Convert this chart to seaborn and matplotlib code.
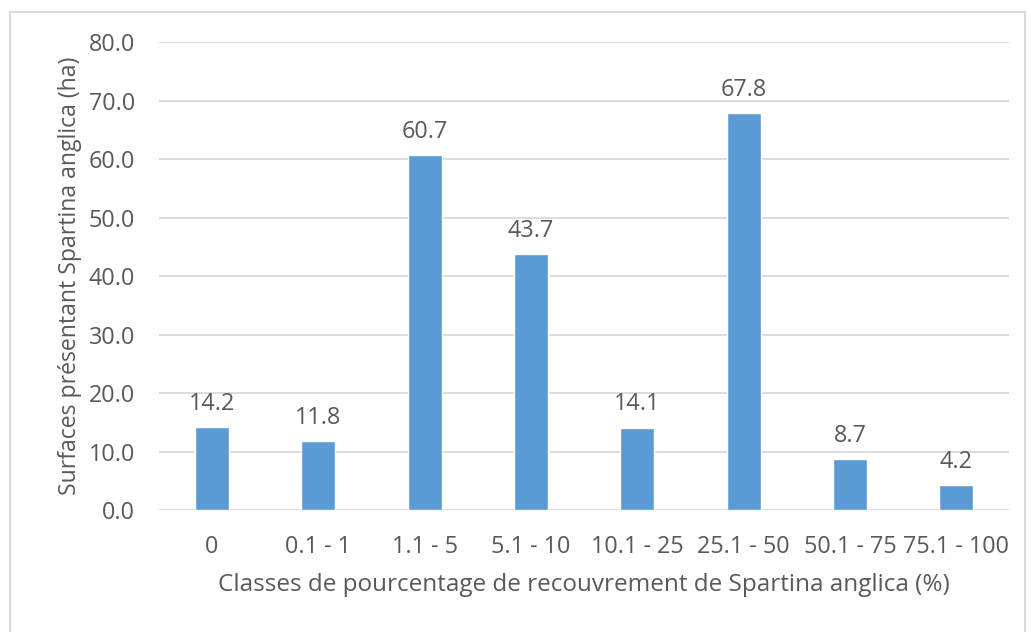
import matplotlib
matplotlib.use("Agg")
import matplotlib.pyplot as plt
import seaborn as sns
import pandas as pd
from matplotlib.patches import Rectangle

# --- DONNEES ---
classes = ["0", "0.1 - 1", "1.1 - 5", "5.1 - 10", "10.1 - 25", "25.1 - 50", "50.1 - 75", "75.1 - 100"]
surfaces = [14.2, 11.8, 60.7, 43.7, 14.1, 67.8, 8.7, 4.2]
y_ticks = [0, 10, 20, 30, 40, 50, 60, 70, 80]

TEXT_COLOR = "#595959"
BAR_COLOR = "#5B9BD5"
GRID_COLOR = "#D9D9D9"

df = pd.DataFrame({"classe": classes, "surface": surfaces})

sns.set_theme(style="white")
plt.rcParams["font.family"] = ["Open Sans", "DejaVu Sans"]

fig = plt.figure(figsize=(10.31, 6.32), dpi=100)
ax = fig.add_axes([0.154, 0.193, 0.825, 0.7405])

sns.barplot(data=df, x="classe", y="surface", color=BAR_COLOR, saturation=1,
            width=0.32, ax=ax, zorder=3)

ax.set_ylim(0, 80)
ax.set_xlim(-0.5, len(classes) - 0.5)
ax.set_yticks(y_ticks)
ax.set_yticklabels([f"{v:.1f}" for v in y_ticks])
ax.yaxis.grid(True, color=GRID_COLOR, linewidth=1.3, zorder=0)
ax.set_axisbelow(True)
for s in ax.spines.values():
    s.set_visible(False)
ax.tick_params(axis="both", length=0, labelsize=16.8, colors=TEXT_COLOR)
ax.tick_params(axis="x", pad=18)
ax.tick_params(axis="y", pad=17)

ax.set_xlabel("Classes de pourcentage de recouvrement de Spartina anglica (%)",
              fontsize=17.5, color=TEXT_COLOR, labelpad=10)
ax.set_ylabel("Surfaces présentant Spartina anglica (ha)",
              fontsize=16.6, color=TEXT_COLOR, labelpad=5)

for i, v in enumerate(surfaces):
    ax.annotate(f"{v:.1f}", (i, v), xytext=(0, 8), textcoords="offset points",
                ha="center", va="bottom", fontsize=16.8, color=TEXT_COLOR)

# cadre du graphique
fig.patches.append(Rectangle((0.0097, -0.02), 0.984, 1.001, transform=fig.transFigure,
                             fill=False, edgecolor=GRID_COLOR, linewidth=1.5))

fig.savefig("out.png", dpi=100, facecolor="white")
